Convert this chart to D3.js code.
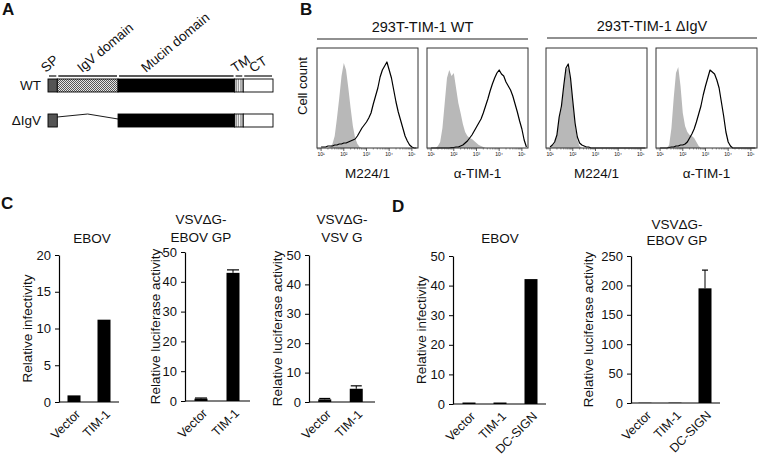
<!DOCTYPE html>
<html><head><meta charset="utf-8">
<script src="https://cdn.jsdelivr.net/npm/d3@7"></script>
<style>
body{margin:0;background:#fff}
svg{display:block}
text{font-family:"Liberation Sans",Arial,Helvetica,sans-serif;fill:#111}
</style>
</head><body>
<svg id="fig" width="760" height="462"></svg>
<script>
// ---------------- DATA ----------------
// Panel A: TIM-1 domain map (residue numbers, approximate)
const domainNames  = ["SP", "IgV domain", "Mucin domain", "TM", "CT"];
const domainStart  = [1, 16, 114, 302, 316];
const domainEnd    = [16, 114, 302, 316, 364];
const constructs   = ["WT", "ΔIgV"];
const deletedIn    = {"WT": [], "ΔIgV": ["IgV domain"]};

// Panel B: flow cytometry histograms (fraction of box height per log10 bin)
const flowGroups = ["293T-TIM-1 WT", "293T-TIM-1 ΔIgV"];
const flowAntibodies = ["M224/1", "α-TIM-1", "M224/1", "α-TIM-1"];
const flowTickLabels = ["10¹", "10²", "10³", "10⁴", "10⁵"];
const flowTickValues = [10, 100, 1000, 10000, 100000];
const flowLogBins = [1.0,1.1,1.2,1.3,1.4,1.5,1.6,1.7,1.8,1.9,
                     2.0,2.1,2.2,2.3,2.4,2.5,2.6,2.7,2.8,2.9,
                     3.0,3.1,3.2,3.3,3.4,3.5,3.6,3.7,3.8,3.9,
                     4.0,4.1,4.2,4.3,4.4,4.5,4.6,4.7,4.8,4.9,
                     5.0,5.1,5.2];
const controlWtM224 = [0,0,0,0,0.01,0.04,0.12,0.3,0.5,0.72,
                       0.85,0.78,0.6,0.4,0.22,0.1,0.04,0.01,0,0,
                       0,0,0,0,0,0,0,0,0,0, 0,0,0,0,0,0,0,0,0,0, 0,0,0];
const stainWtM224   = [0.01,0.01,0.01,0.02,0.02,0.02,0.03,0.03,0.04,0.04,
                       0.05,0.05,0.06,0.07,0.08,0.09,0.12,0.16,0.2,0.23,
                       0.26,0.3,0.35,0.44,0.52,0.6,0.71,0.78,0.82,0.86,
                       0.78,0.7,0.58,0.46,0.36,0.28,0.2,0.12,0.07,0.03,
                       0.01,0,0];
const controlWtTim  = [0,0,0,0.02,0.06,0.2,0.45,0.7,0.78,0.72,
                       0.75,0.6,0.45,0.35,0.24,0.16,0.12,0.1,0.09,0.07,
                       0.05,0.03,0.02,0.01,0,0,0,0,0,0, 0,0,0,0,0,0,0,0,0,0, 0,0,0];
const stainWtTim    = [0,0,0,0,0,0,0,0,0,0.005,
                       0.005,0.01,0.01,0.02,0.03,0.05,0.07,0.1,0.13,0.17,
                       0.21,0.25,0.29,0.35,0.42,0.49,0.57,0.64,0.7,0.75,
                       0.78,0.74,0.72,0.66,0.62,0.58,0.52,0.44,0.36,0.27,
                       0.19,0.08,0.01];
const controlDelM224 = [0,0.02,0.05,0.12,0.3,0.4,0.6,0.78,0.81,0.68,
                        0.45,0.22,0.08,0.02,0,0,0,0,0,0,
                        0,0,0,0,0,0,0,0,0,0, 0,0,0,0,0,0,0,0,0,0, 0,0,0];
const stainDelM224   = [0.01,0.03,0.06,0.13,0.31,0.42,0.62,0.8,0.84,0.7,
                        0.47,0.25,0.11,0.05,0.03,0.02,0.01,0.01,0,0,
                        0,0,0,0,0,0,0,0,0,0, 0,0,0,0,0,0,0,0,0,0, 0,0,0];
const controlDelTim  = [0,0,0,0,0.03,0.2,0.5,0.75,0.81,0.62,
                        0.35,0.22,0.16,0.13,0.12,0.1,0.06,0.02,0,0,
                        0,0,0,0,0,0,0,0,0,0, 0,0,0,0,0,0,0,0,0,0, 0,0,0];
const stainDelTim    = [0,0,0,0,0.005,0.01,0.01,0.02,0.02,0.03,
                        0.03,0.04,0.06,0.1,0.14,0.19,0.26,0.34,0.42,0.53,
                        0.62,0.7,0.78,0.76,0.74,0.68,0.6,0.46,0.32,0.16,
                        0.06,0.02,0,0,0,0,0,0,0,0, 0,0,0];
const flowControls = [controlWtM224, controlWtTim, controlDelM224, controlDelTim];
const flowStains   = [stainWtM224, stainWtTim, stainDelM224, stainDelTim];

// Panels C and D: bar charts
const catsC = ["Vector", "TIM-1"];
const catsD = ["Vector", "TIM-1", "DC-SIGN"];
const ebovC      = [0.9, 11.2];
const gpC        = [0.8, 43];
const gpCErr     = [0.2, 1];
const vsvgC      = [0.9, 4.5];
const vsvgCErr   = [0.3, 1.0];
const ebovD      = [0.5, 0.5, 42.2];
const gpD        = [0.4, 0.5, 195];
const gpDErr     = [0, 0, 31];
const ticks20  = [0, 5, 10, 15, 20];
const ticks50  = [0, 10, 20, 30, 40, 50];
const ticks250 = [0, 50, 100, 150, 200, 250];

// ---------------- DRAW ----------------
const svg = d3.select("#fig");
svg.append("rect").attr("width",760).attr("height",462).attr("fill","#fff");
const defs = svg.append("defs");
const chk = defs.append("pattern").attr("id","checker").attr("patternUnits","userSpaceOnUse")
  .attr("width",2).attr("height",2);
chk.append("rect").attr("width",2).attr("height",2).attr("fill","#e6e6e6");
chk.append("rect").attr("width",1).attr("height",1).attr("fill","#555");
chk.append("rect").attr("x",1).attr("y",1).attr("width",1).attr("height",1).attr("fill","#555");
const str = defs.append("pattern").attr("id","stripes").attr("patternUnits","userSpaceOnUse")
  .attr("width",2.4).attr("height",4);
str.append("rect").attr("width",2.4).attr("height",4).attr("fill","#fff");
str.append("rect").attr("x",0.4).attr("width",1).attr("height",4).attr("fill","#666");

function letter(t,x,y){
  svg.append("text").attr("x",x).attr("y",y).attr("font-size",17).attr("font-weight","bold").text(t);
}
letter("A",2,15); letter("B",300,15); letter("C",1,209); letter("D",392,212);

// ---- Panel A ----
(function(){
  const xA = d3.scaleLinear().domain([1,364]).range([48,273]);
  const rowY = d3.scaleOrdinal().domain(constructs).range([79,114]);
  const h = 13;
  const fills = {"SP":"#555","IgV domain":"url(#checker)","Mucin domain":"#000","TM":"url(#stripes)","CT":"#fff"};
  const labelX = [46, 82, 146, 235, 253];
  const labelRot = [-42, -40, -40, -33, -33];
  const g = svg.append("g");
  const doms = domainNames.map((n,i)=>({name:n,start:domainStart[i],end:domainEnd[i],i}));
  // bracket lines
  g.selectAll("line.br").data(doms).join("line")
    .attr("x1",d=>xA(d.start)+1).attr("x2",d=>xA(d.end)-1)
    .attr("y1",76).attr("y2",76).attr("stroke","#222").attr("stroke-width",1.3);
  g.selectAll("text.dl").data(doms).join("text")
    .attr("transform",d=>`translate(${labelX[d.i]},73) rotate(${labelRot[d.i]})`)
    .attr("font-size",13.5).text(d=>d.name);
  constructs.forEach(c=>{
    const y = rowY(c);
    g.append("text").attr("x",41).attr("y",y+h/2).attr("dy","0.36em").attr("text-anchor","end")
      .attr("font-size",13.5).text(c);
    const kept = doms.filter(d=>!deletedIn[c].includes(d.name));
    g.selectAll(null).data(kept).join("rect")
      .attr("x",d=>xA(d.start)).attr("y",y).attr("width",d=>xA(d.end)-xA(d.start)).attr("height",h)
      .attr("fill",d=>fills[d.name]).attr("stroke","#000").attr("stroke-width",0.9);
    deletedIn[c].forEach(name=>{
      const d = doms.find(e=>e.name===name);
      const mid = (d.start+d.end)/2;
      g.append("path").attr("d",d3.line()([[xA(d.start),y+3],[xA(mid),y],[xA(d.end),y+5]]))
        .attr("fill","none").attr("stroke","#000").attr("stroke-width",0.9);
    });
  });
})();

// ---- Panel B ----
(function(){
  const boxX = [317, 427, 546, 656], bw = 101, top = 48, bot = 148;
  const y = d3.scaleLinear().domain([0,1]).range([bot, top]);
  const hdr = [[317,528,39],[547,757,38]];
  flowGroups.forEach((t,i)=>{
    const [a,b,yy] = hdr[i];
    svg.append("line").attr("x1",a).attr("x2",b).attr("y1",yy).attr("y2",yy).attr("stroke","#222").attr("stroke-width",1.2);
    svg.append("text").attr("x",(a+b)/2).attr("y",yy-7).attr("text-anchor","middle").attr("font-size",14.5).text(t);
  });
  svg.append("text").attr("transform","translate(307,86) rotate(-90)").attr("text-anchor","middle")
    .attr("font-size",13).text("Cell count");
  flowAntibodies.forEach((ab,i)=>{
    const x = d3.scaleLog().domain([6.6, 186000]).range([boxX[i], boxX[i]+bw]);
    const g = svg.append("g");
    const pts = flowLogBins.map((b,k)=>[Math.pow(10,b), k]);
    const area = d3.area().x(d=>x(d[0])).y0(bot).y1(d=>y(flowControls[i][d[1]]));
    g.append("path").attr("d",area(pts)).attr("fill","#b8b8b8");
    const line = d3.line().x(d=>x(d[0])).y(d=>y(flowStains[i][d[1]]));
    g.append("path").attr("d",line(pts)).attr("fill","none").attr("stroke","#000").attr("stroke-width",1.2)
      .attr("stroke-linejoin","round");
    g.append("rect").attr("x",boxX[i]).attr("y",top).attr("width",bw).attr("height",bot-top)
      .attr("fill","none").attr("stroke","#333").attr("stroke-width",1);
    const minor = [];
    [1,10,100,1000,10000,100000].forEach(dec=>{ [2,3,4,5,6,7,8,9].forEach(m=>{ const v=dec*m; if(v>6.6&&v<186000) minor.push(v); }); });
    g.selectAll(null).data(minor).join("line").attr("x1",d=>x(d)).attr("x2",d=>x(d))
      .attr("y1",bot).attr("y2",bot+1.5).attr("stroke","#444").attr("stroke-width",0.6);
    g.selectAll(null).data(flowTickValues).join("line").attr("x1",d=>x(d)).attr("x2",d=>x(d))
      .attr("y1",bot).attr("y2",bot+3).attr("stroke","#333").attr("stroke-width",0.8);
    g.selectAll(null).data(flowTickValues).join("text").attr("x",d=>x(d)).attr("y",bot+8)
      .attr("text-anchor","middle").attr("font-size",5).attr("fill","#333").text((d,k)=>flowTickLabels[k]);
    svg.append("text").attr("x",boxX[i]+bw/2).attr("y",178).attr("text-anchor","middle")
      .attr("font-size",13.5).text(ab);
  });
})();

// ---- Panels C & D ----
function barChart(o){
  const g = svg.append("g");
  const y = d3.scaleLinear().domain([0, o.ticks[o.ticks.length-1]]).range([o.yBot, o.yTop]);
  const xb = d3.scalePoint().domain(o.cats).range(o.band).padding(0.5);
  const bw = 13;
  g.selectAll("rect").data(o.cats).join("rect")
    .attr("x",c=>xb(c)-bw/2).attr("width",bw)
    .attr("y",(c,i)=>y(o.values[i])).attr("height",(c,i)=>o.yBot-y(o.values[i])).attr("fill","#000");
  if(o.err){
    o.cats.forEach((c,i)=>{
      if(!o.err[i]) return;
      const cx = xb(c), yt = y(o.values[i]+o.err[i]);
      g.append("line").attr("x1",cx).attr("x2",cx).attr("y1",y(o.values[i])).attr("y2",yt).attr("stroke","#000").attr("stroke-width",1);
      g.append("line").attr("x1",cx-o.cap/2).attr("x2",cx+o.cap/2).attr("y1",yt).attr("y2",yt).attr("stroke","#000").attr("stroke-width",1.2);
    });
  }
  const ax = g.append("g").attr("transform",`translate(${o.axisX},0)`)
    .call(d3.axisLeft(y).tickValues(o.ticks).tickSize(4).tickSizeOuter(0).tickPadding(4));
  ax.select(".domain").attr("stroke","#000").attr("stroke-width",1.2);
  ax.selectAll(".tick line").attr("stroke","#000").attr("stroke-width",1);
  ax.selectAll(".tick text").attr("font-size",13).attr("font-family","Liberation Sans, Arial, sans-serif").attr("fill","#111");
  g.append("line").attr("x1",o.axisX).attr("x2",o.axisEnd).attr("y1",o.yBot).attr("y2",o.yBot)
    .attr("stroke","#000").attr("stroke-width",1.2);
  g.selectAll("text.xl").data(o.cats).join("text")
    .attr("transform",c=>`translate(${xb(c)+7},${o.yBot+13}) rotate(-45)`)
    .attr("text-anchor","end").attr("font-size",12.5).text(c=>c);
  o.title.forEach((t,i)=>{
    g.append("text").attr("x",o.titleX).attr("y",o.titleY[i]).attr("text-anchor","middle").attr("font-size",13.5).text(t);
  });
  g.append("text").attr("transform",`translate(${o.ylabX},${(o.yTop+o.yBot)/2}) rotate(-90)`)
    .attr("text-anchor","middle").attr("dy","0.35em").attr("font-size",13.5).text(o.ylabel);
}

barChart({cats:catsC, values:ebovC, ticks:ticks20, axisX:59, axisEnd:119, yTop:255, yBot:402, band:[59,119],
  title:["EBOV"], titleX:92, titleY:[243], ylabel:"Relative infectivity", ylabX:27});
barChart({cats:catsC, values:gpC, err:gpCErr, cap:12, ticks:ticks50, axisX:185, axisEnd:250, yTop:252, yBot:401, band:[185,249],
  title:["VSVΔG-","EBOV GP"], titleX:201, titleY:[224,242], ylabel:"Relative luciferase activity", ylabX:155});
barChart({cats:catsC, values:vsvgC, err:vsvgCErr, cap:11, ticks:ticks50, axisX:309, axisEnd:375, yTop:255, yBot:402, band:[309,372],
  title:["VSVΔG-","VSV G"], titleX:342, titleY:[224,242], ylabel:"Relative luciferase activity", ylabX:277});
barChart({cats:catsD, values:ebovD, ticks:ticks50, axisX:453, axisEnd:546, yTop:256, yBot:404, band:[453.5,546.5],
  title:["EBOV"], titleX:500, titleY:[243], ylabel:"Relative infectivity", ylabX:421});
barChart({cats:catsD, values:gpD, err:gpDErr, cap:6, ticks:ticks250, axisX:631, axisEnd:720, yTop:256, yBot:403, band:[630,720],
  title:["VSVΔG-","EBOV GP"], titleX:677, titleY:[229,245], ylabel:"Relative luciferase activity", ylabX:588});
</script>
</body></html>
